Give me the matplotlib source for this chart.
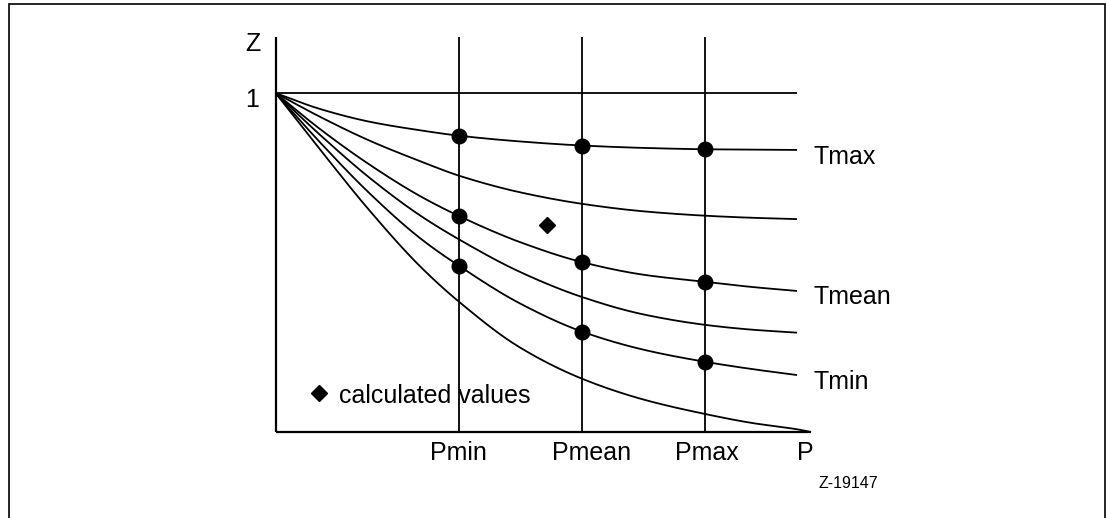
import numpy as np
import matplotlib
matplotlib.use("Agg")
import matplotlib.pyplot as plt
from matplotlib.patches import Rectangle

plt.rcParams['font.family'] = ['Liberation Sans', 'DejaVu Sans']

# pressure axis, normalised (0 = origin, 1 = right end of the isotherms)
p_samples   =   [0.0, 0.085, 0.181, 0.277, 0.352, 0.469, 0.588, 0.705, 0.824, 0.912, 1.0]
p_bottom    =   p_samples + [1.027]
p_marks     =   [0.352, 0.588, 0.824]
p_names     =   ['Pmin', 'Pmean', 'Pmax']

# compressibility factor Z along each isotherm, top to bottom
z_tmax      =   [1.0, 0.953, 0.915, 0.890, 0.874, 0.857, 0.845, 0.838, 0.834, 0.833, 0.832]
z_t2        =   [1.0, 0.930, 0.859, 0.799, 0.756, 0.707, 0.673, 0.651, 0.638, 0.632, 0.628]
z_tmean     =   [1.0, 0.894, 0.788, 0.696, 0.637, 0.560, 0.501, 0.464, 0.443, 0.428, 0.416]
z_t4        =   [1.0, 0.877, 0.749, 0.639, 0.568, 0.472, 0.398, 0.347, 0.316, 0.302, 0.293]
z_tmin      =   [1.0, 0.855, 0.703, 0.572, 0.490, 0.379, 0.296, 0.243, 0.207, 0.186, 0.168]
z_t6        =   [1.0, 0.834, 0.652, 0.489, 0.384, 0.249, 0.157, 0.096, 0.053, 0.027, 0.008, 0.0]

curve_names =   ['Tmax', 'Tmean', 'Tmin']

# calculated value
calc_p      =   [0.520]
calc_z      =   [0.611]


def pchip(x, y, xs):
    # monotone cubic hermite (Fritsch-Carlson)
    x = np.asarray(x, float)
    y = np.asarray(y, float)
    h = np.diff(x)
    d = np.diff(y) / h
    m = np.zeros_like(y)
    m[0], m[-1] = d[0], d[-1]
    for k in range(1, len(x) - 1):
        if d[k-1] * d[k] <= 0:
            m[k] = 0.0
        else:
            w1 = 2*h[k] + h[k-1]
            w2 = h[k] + 2*h[k-1]
            m[k] = (w1 + w2) / (w1/d[k-1] + w2/d[k])
    idx = np.clip(np.searchsorted(x, xs) - 1, 0, len(x) - 2)
    t = (xs - x[idx]) / h[idx]
    h00 = 2*t**3 - 3*t**2 + 1
    h10 = t**3 - 2*t**2 + t
    h01 = -2*t**3 + 3*t**2
    h11 = t**3 - t**2
    return h00*y[idx] + h10*h[idx]*m[idx] + h01*y[idx+1] + h11*h[idx]*m[idx+1]


fig     =   plt.figure(figsize=(11.06, 5.18), dpi=100)
ax      =   fig.add_axes([0, 0, 1, 1])
ax.set_xlim(-0.5283, 1.5925)
ax.set_ylim(-0.2537, 1.2743)
ax.axis('off')

# frame around the drawing (open at the bottom)
fig.patches.append(Rectangle((9/1106, -0.05), 1095.5/1106, 1.05 - 4/518,
                             transform=fig.transFigure, fill=False,
                             edgecolor='black', linewidth=1.2))

line_kw =   dict(color='black', linewidth=1.3, solid_capstyle='butt')
axis_kw =   dict(color='black', linewidth=1.6, solid_capstyle='butt')

z_top   =   1.165
p_end   =   1.027

ax.plot([0, 0], [0, z_top], **axis_kw)
ax.plot([0, p_end], [0, 0], **axis_kw)
ax.plot([0, 1.0], [1, 1], **line_kw)
for p in p_marks:
    ax.plot([p, p], [0, z_top], **line_kw)

xs      =   np.linspace(0, 1.0, 400)
xs_b    =   np.linspace(0, p_end, 400)
for z in [z_tmax, z_t2, z_tmean, z_t4, z_tmin]:
    ax.plot(xs, pchip(p_samples, z, xs), **line_kw)
ax.plot(xs_b, pchip(p_bottom, z_t6, xs_b), **line_kw)

# measured points where the isotherms cross Pmin, Pmean, Pmax
mark_idx =  [p_samples.index(p) for p in p_marks]
for z in [z_tmax, z_tmean, z_tmin]:
    ax.plot(p_marks, [z[i] for i in mark_idx], 'o', color='black',
            markersize=10.5, zorder=5)

ax.plot(calc_p, calc_z, 'D', color='black', markersize=8, zorder=5)

fs = 18
ax.text(-0.044, 1.1248, 'Z', fontsize=fs, ha='center', va='baseline')
ax.text(-0.045, 0.9596, '1', fontsize=fs, ha='center', va='baseline')

label_x =   [0.350, 0.607, 0.827]
for x, name in zip(label_x, p_names):
    ax.text(x, -0.0826, name, fontsize=fs, ha='center', va='baseline')
ax.text(1.015, -0.0826, 'P', fontsize=fs, ha='center', va='baseline')

for z, name in zip([0.7906, 0.3767, 0.126], curve_names):
    ax.text(1.0307, z, name, fontsize=fs, ha='left', va='baseline')

# legend
ax.plot([0.084], [0.116], 'D', color='black', markersize=8)
ax.text(0.122, 0.0847, 'calculated values', fontsize=fs, ha='left', va='baseline')

ax.text(1.0988, -0.166, 'Z-19147', fontsize=11.5, ha='center', va='baseline')

fig.savefig('out.png', dpi=100)
